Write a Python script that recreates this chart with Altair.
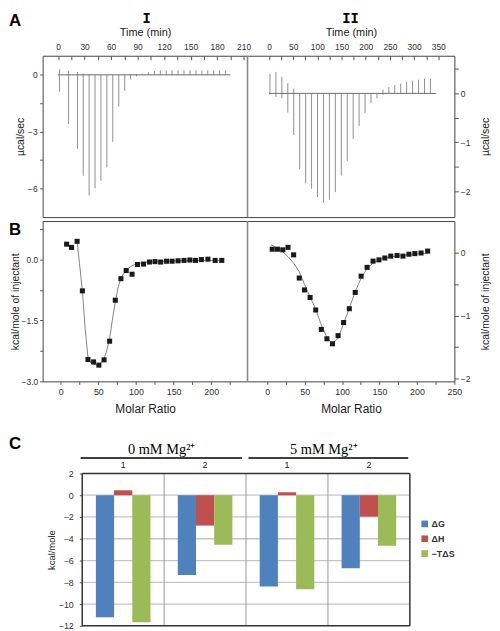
import altair as alt
import pandas as pd

FONT = "Liberation Sans"

# ---------------- Panel A : raw ITC traces ----------------
TIME_I = [1.5, 11.9, 22.0, 28.4, 35.1, 41.8, 48.5, 55.2, 61.9, 68.7, 75.4, 82.1, 88.8, 95.5,
          102.2, 109.0, 115.7, 122.4, 129.0, 135.8, 142.5, 149.3, 156.0, 162.7, 169.4, 176.1, 182.8, 189.6]
DOWN_I = [-0.89, -2.6, -3.9, -5.33, -6.38, -6.0, -5.6, -4.88, -3.56, -1.68, -0.85, -0.24, -0.07, 0.0,
          0.0, 0.0, 0.0, 0.0, 0.0, 0.0, 0.0, 0.0, 0.0, 0.0, 0.0, 0.0, 0.0, 0.0]
UP_I = [0.3, 0.22, 0.15, 0.08, 0.03, 0.0, 0.0, 0.0, 0.0, 0.0, 0.0, 0.0, 0.02, 0.06,
        0.14, 0.2, 0.24, 0.24, 0.24, 0.24, 0.24, 0.24, 0.24, 0.24, 0.24, 0.24, 0.24, 0.24]
BASE_I = [0, 195]

TIME_II = [2.0, 14.3, 26.6, 38.9, 51.2, 63.5, 75.8, 88.0, 100.3, 112.6, 124.9, 137.2, 149.5, 161.8,
           174.0, 186.3, 198.6, 210.9, 223.2, 235.5, 247.8, 260.0, 272.3, 284.6, 296.9, 309.2, 321.5, 333.8]
DOWN_II = [-0.03, -0.07, -0.1, -0.39, -0.85, -1.55, -1.84, -1.95, -2.12, -2.24, -2.18, -2.02, -1.68, -1.38,
           -0.93, -0.67, -0.4, -0.2, -0.1, -0.03, 0.0, 0.0, 0.0, 0.0, 0.0, 0.0, 0.0, 0.0]
UP_II = [0.40, 0.44, 0.34, 0.21, 0.1, 0.0, 0.0, 0.0, 0.0, 0.0, 0.0, 0.0, 0.0, 0.0,
         0.0, 0.0, 0.0, 0.0, 0.0, 0.08, 0.13, 0.17, 0.2, 0.24, 0.26, 0.28, 0.3, 0.3]
BASE_II = [0, 346]

T_I_DOM = [-17.5, 214.4]
UC_I_DOM = [-7.52, 1.01]
T_II_DOM = [-44.4, 383.3]
UC_II_DOM = [-2.53, 0.77]
TIME_I_TICKS = list(range(0, 211, 15))
TIME_II_TICKS = list(range(0, 351, 25))
UCAL_I_TICKS = [-6, -4.5, -3, -1.5, 0]
UCAL_II_TICKS = [0.5, 0, -0.5, -1, -1.5, -2]

# ---------------- Panel B : integrated heats ----------------
MR_I = [7.9, 14.4, 21.8, 28.8, 36.2, 43.7, 50.7, 57.6, 65.0, 72.5, 80.0, 87.0, 94.8, 102.0,
        110.0, 117.9, 125.3, 132.8, 140.6, 148.0, 155.9, 163.8, 171.6, 179.0, 186.9, 195.6, 205.2, 214.0]
DH_I = [0.38, 0.30, 0.45, -0.77, -2.46, -2.52, -2.60, -2.47, -2.01, -1.00, -0.47, -0.27, -0.36, -0.12,
        -0.11, -0.06, -0.05, -0.06, -0.04, -0.04, -0.03, -0.02, -0.01, -0.02, 0.00, 0.01, -0.02, -0.02]
FIT_I_X = [21.8, 25.0, 28.8, 32.5, 36.2, 40.0, 43.7, 50.7, 57.6, 61.0, 65.0, 68.5, 72.5, 76.0,
           80.0, 87.0, 94.8, 102.0, 110.0, 125.0, 140.0, 160.0, 180.0, 200.0, 214.0]
FIT_I_Y = [0.45, -0.10, -0.77, -1.70, -2.40, -2.55, -2.58, -2.60, -2.45, -2.25, -1.95, -1.50, -1.05, -0.70,
           -0.45, -0.25, -0.15, -0.10, -0.07, -0.05, -0.04, -0.03, -0.02, -0.02, -0.02]

MR_II = [6.6, 13.6, 20.7, 27.7, 35.2, 42.7, 49.7, 57.2, 64.7, 72.2, 79.7, 87.1, 94.6, 102.0,
         109.6, 117.5, 125.4, 133.4, 141.3, 149.2, 157.1, 165.0, 173.4, 181.3, 189.3, 197.2, 205.5, 214.3]
DH_II = [0.06, 0.06, 0.05, 0.09, -0.03, -0.40, -0.59, -0.71, -0.91, -1.22, -1.37, -1.45, -1.32, -1.11,
         -0.89, -0.63, -0.37, -0.23, -0.13, -0.11, -0.08, -0.05, -0.04, -0.05, -0.02, -0.01, 0.00, 0.03]
FIT_II_X = [5.0, 13.6, 20.7, 27.7, 35.2, 42.7, 49.7, 57.2, 64.7, 72.2, 79.7, 87.1, 94.6, 102.0,
            109.6, 117.5, 125.4, 133.4, 141.3, 149.2, 157.1, 165.0, 181.3, 197.2, 214.3]
FIT_II_Y = [0.13, 0.08, 0.02, -0.06, -0.16, -0.30, -0.50, -0.70, -0.90, -1.15, -1.35, -1.45, -1.36, -1.13,
            -0.88, -0.62, -0.40, -0.25, -0.16, -0.11, -0.08, -0.06, -0.04, -0.02, 0.00]

MR_I_DOM = [-24.0, 248.2]
KC_I_DOM = [-3.0, 0.95]
MR_II_DOM = [-26.4, 250.0]
KC_II_DOM = [-2.05, 0.51]
MR_TICKS_I = list(range(0, 250, 25))
MR_TICKS_II = list(range(0, 251, 25))
KCAL_I_TICKS = [0.75, 0, -0.75, -1.5, -2.25, -3.0]
KCAL_II_TICKS = [0, -0.5, -1, -1.5, -2]

# ---------------- Panel C : thermodynamic parameters ----------------
GROUPS = ["0 mM|1", "0 mM|2", "5 mM|1", "5 mM|2"]
TERMS = ["ΔG", "ΔH", "−TΔS"]
DG = [-11.2, -7.33, -8.39, -6.7]
DH = [0.45, -2.79, 0.27, -1.97]
MTDS = [-11.67, -4.55, -8.64, -4.64]
TERM_COLORS = ["#4F81BD", "#C0504D", "#9BBB59"]
KCAL_DOM = [-12, 2]
KCAL_TICKS = list(range(-12, 3, 2))
KCAL_GRID = list(range(-10, 1, 2))
GROUP_SPAN = [0, 4]
GROUP_EDGES = [1, 2, 3]
HEADER_LABELS = ["0 mM Mg²⁺", "5 mM Mg²⁺"]
HEADER_CENTER = [0.97, 2.95]
HEADER_START = [-0.02, 2.03]
HEADER_END = [1.95, 3.98]

# ---------------- layout sizes ----------------
W, W1 = 416, 207
HA, HB = 163, 162
CH = 154
C_RANGE = [40, 371]


def sc(dom, rng=None):
    if rng is None:
        return alt.Scale(domain=dom, nice=False, zero=False)
    return alt.Scale(domain=dom, range=rng, nice=False, zero=False)


def ax(**kw):
    base = dict(grid=False, labelFont=FONT, titleFont=FONT, labelColor="#333", titleColor="#222",
                tickColor="#555", labelFontSize=8.5, titleFontSize=10.5, titleFontWeight="normal",
                labelOverlap=False, labelFlush=False, domain=False)
    base.update(kw)
    return alt.Axis(**base)


def txt(label, x, y, size=17, font=FONT, align="left"):
    return alt.Chart(pd.DataFrame({"lab": [label]})).mark_text(
        align=align, baseline="top", fontSize=size, fontWeight="bold", font=font, color="black"
    ).encode(x=alt.value(x), y=alt.value(y), text="lab:N")


FRAME = alt.ViewBackground(stroke="#444", strokeWidth=1)

# ---------- Row A ----------
ax_tI = ax(orient="top", title="Time (min)", values=TIME_I_TICKS,
           labelExpr="datum.value % 30 == 0 ? datum.label : ''", offset=-4, tickSize=4,
           labelPadding=4.5, titlePadding=5, titleFontSize=11)
ax_yI = ax(orient="left", title="µcal/sec", values=UCAL_I_TICKS, format=".0f",
           labelExpr="datum.value % 3 == 0 ? datum.label : ''", tickSize=3, labelPadding=2.5, titlePadding=2)
ax_tII = ax(orient="top", title="Time (min)", values=TIME_II_TICKS,
            labelExpr="datum.value % 50 == 0 ? datum.label : ''", offset=-4, tickSize=4,
            labelPadding=4.5, titlePadding=5, titleFontSize=11)
ax_yII = ax(orient="right", title="µcal/sec", values=UCAL_II_TICKS, format=".0f",
            labelExpr="datum.value % 1 == 0 ? datum.label : ''", tickSize=4, labelPadding=2,
            titlePadding=11, titleAngle=-90, titleBaseline="top")

sxA1, syA1 = sc(T_I_DOM, [0, W1]), sc(UC_I_DOM)
sxA2, syA2 = sc(T_II_DOM, [W1, W]), sc(UC_II_DOM)

dfA1 = pd.DataFrame({"t": TIME_I, "lo": DOWN_I, "hi": UP_I})
dfA2 = pd.DataFrame({"t": TIME_II, "lo": DOWN_II, "hi": UP_II})
bA1 = pd.DataFrame({"t0": [BASE_I[0]], "t1": [BASE_I[1]], "y": [0]})
bA2 = pd.DataFrame({"t0": [BASE_II[0]], "t1": [BASE_II[1]], "y": [0]})

layerA1 = alt.layer(
    alt.Chart(dfA1).mark_rule(color="#8f8f8f", strokeWidth=1).encode(
        x=alt.X("t:Q", scale=sxA1, axis=ax_tI), y=alt.Y("lo:Q", scale=syA1, axis=ax_yI), y2="hi:Q"),
    alt.Chart(bA1).mark_rule(color="#6a6a6a", strokeWidth=1).encode(
        x=alt.X("t0:Q", scale=sxA1, axis=ax_tI), x2="t1:Q", y=alt.Y("y:Q", scale=syA1, axis=ax_yI)),
)
layerA2 = alt.layer(
    alt.Chart(dfA2).mark_rule(color="#8f8f8f", strokeWidth=1).encode(
        x=alt.X("t:Q", scale=sxA2, axis=ax_tII), y=alt.Y("lo:Q", scale=syA2, axis=ax_yII), y2="hi:Q"),
    alt.Chart(bA2).mark_rule(color="#6a6a6a", strokeWidth=1).encode(
        x=alt.X("t0:Q", scale=sxA2, axis=ax_tII), x2="t1:Q", y=alt.Y("y:Q", scale=syA2, axis=ax_yII)),
    alt.Chart(pd.DataFrame({"d": [T_II_DOM[0]]})).mark_rule(color="#888", strokeWidth=1.6).encode(
        x=alt.X("d:Q", scale=sxA2, axis=ax_tII)),
)
rowA = alt.layer(
    layerA1, layerA2,
    txt("A", -34, -43),
    txt("I", 105, -44, size=14, font="Liberation Mono", align="center"),
    txt("II", 311, -44, size=14, font="Liberation Mono", align="center"),
).resolve_scale(x="independent", y="independent").properties(width=W, height=HA, view=FRAME)

# ---------- Row B ----------
ax_xBI = ax(orient="bottom", title="Molar Ratio", values=MR_TICKS_I,
            labelExpr="datum.value % 50 == 0 ? datum.label : ''", tickSize=3, labelPadding=3.5,
            titlePadding=7, titleFontSize=12, labelFontSize=9)
ax_yBI = ax(orient="left", title="kcal/mole of injectant", values=KCAL_I_TICKS, format=".1f",
            labelExpr="abs(datum.value % 1.5) < 0.01 ? datum.label : ''", tickSize=3, labelPadding=2,
            titlePadding=1)
ax_xBII = ax(orient="bottom", title="Molar Ratio", values=MR_TICKS_II,
             labelExpr="datum.value % 50 == 0 ? datum.label : ''", tickSize=3, labelPadding=3.5,
             titlePadding=7, titleFontSize=12, labelFontSize=9)
ax_yBII = ax(orient="right", title="kcal/mole of injectant", values=KCAL_II_TICKS, format=".0f",
             labelExpr="datum.value % 1 == 0 ? datum.label : ''", tickSize=4, labelPadding=2,
             titlePadding=11, titleAngle=-90, titleBaseline="top")

sxB1, syB1 = sc(MR_I_DOM, [0, W1]), sc(KC_I_DOM)
sxB2, syB2 = sc(MR_II_DOM, [W1, W]), sc(KC_II_DOM)

layerB1 = alt.layer(
    alt.Chart(pd.DataFrame({"x": FIT_I_X, "y": FIT_I_Y})).mark_line(color="#777", strokeWidth=0.9).encode(
        x=alt.X("x:Q", scale=sxB1, axis=ax_xBI), y=alt.Y("y:Q", scale=syB1, axis=ax_yBI)),
    alt.Chart(pd.DataFrame({"x": MR_I, "y": DH_I})).mark_square(size=26, color="#1a1a1a", opacity=1).encode(
        x=alt.X("x:Q", scale=sxB1, axis=ax_xBI), y=alt.Y("y:Q", scale=syB1, axis=ax_yBI)),
)
layerB2 = alt.layer(
    alt.Chart(pd.DataFrame({"x": FIT_II_X, "y": FIT_II_Y})).mark_line(color="#777", strokeWidth=0.9).encode(
        x=alt.X("x:Q", scale=sxB2, axis=ax_xBII), y=alt.Y("y:Q", scale=syB2, axis=ax_yBII)),
    alt.Chart(pd.DataFrame({"x": MR_II, "y": DH_II})).mark_square(size=26, color="#1a1a1a", opacity=1).encode(
        x=alt.X("x:Q", scale=sxB2, axis=ax_xBII), y=alt.Y("y:Q", scale=syB2, axis=ax_yBII)),
    alt.Chart(pd.DataFrame({"d": [MR_II_DOM[0]]})).mark_rule(color="#888", strokeWidth=1.6).encode(
        x=alt.X("d:Q", scale=sxB2, axis=ax_xBII)),
)
rowB = alt.layer(layerB1, layerB2, txt("B", -34, 1)).resolve_scale(
    x="independent", y="independent").properties(width=W, height=HB, view=FRAME)

# ---------- Panel C ----------
dfC = pd.DataFrame({
    "group": GROUPS * 3,
    "term": [t for t in TERMS for _ in GROUPS],
    "value": DG + DH + MTDS,
})
qsc = alt.Scale(domain=GROUP_SPAN, range=C_RANGE, nice=False, zero=False)
ysc = alt.Scale(domain=KCAL_DOM, nice=False, zero=False)
csc = alt.Scale(domain=TERMS, range=TERM_COLORS)

c_grid = alt.Chart(pd.DataFrame({"y": KCAL_GRID, "x0": [GROUP_SPAN[0]] * len(KCAL_GRID),
                                 "x1": [GROUP_SPAN[1]] * len(KCAL_GRID)})).mark_rule(
    color="#c6c6c6", strokeWidth=1.3).encode(
    x=alt.X("x0:Q", scale=qsc, axis=None), x2="x1:Q", y=alt.Y("y:Q", scale=ysc, axis=None))
c_div = alt.Chart(pd.DataFrame({"b": GROUP_EDGES})).mark_rule(color="#9a9a9a", strokeWidth=1).encode(
    x=alt.X("b:Q", scale=qsc, axis=None))
c_frame_h = alt.Chart(pd.DataFrame({"y": KCAL_DOM, "x0": [GROUP_SPAN[0]] * 2,
                                    "x1": [GROUP_SPAN[1]] * 2})).mark_rule(
    color="#333", strokeWidth=1.5).encode(
    x=alt.X("x0:Q", scale=qsc, axis=None), x2="x1:Q", y=alt.Y("y:Q", scale=ysc, axis=None))
c_frame_v = alt.Chart(pd.DataFrame({"b": GROUP_SPAN})).mark_rule(color="#333", strokeWidth=1.5).encode(
    x=alt.X("b:Q", scale=qsc, axis=None))
c_back = alt.layer(c_grid, c_div, c_frame_h, c_frame_v)

c_bars = alt.Chart(dfC).mark_bar().encode(
    x=alt.X("group:N", sort=GROUPS, scale=alt.Scale(range=C_RANGE, paddingInner=0, paddingOuter=0),
            axis=alt.Axis(orient="top", title=None, labelExpr="split(datum.label, '|')[1]", ticks=False,
                          tickSize=0, domain=False, labelAngle=0, labelPadding=3.5, labelFont=FONT,
                          labelFontSize=9, labelColor="#222", grid=False)),
    xOffset=alt.XOffset("term:N", sort=TERMS, scale=alt.Scale(paddingInner=0, paddingOuter=0.75)),
    y=alt.Y("value:Q", stack=None, scale=ysc,
            axis=alt.Axis(values=KCAL_TICKS, title="kcal/mole", grid=False, offset=-C_RANGE[0],
                          domain=False, tickSize=3, tickColor="#555", labelPadding=6, titlePadding=2,
                          labelFont=FONT, titleFont=FONT, labelFontSize=9, titleFontSize=9.5,
                          titleFontWeight="normal", labelColor="#333", titleColor="#222",
                          labelOverlap=False, labelFlush=False)),
    color=alt.Color("term:N", sort=TERMS, scale=csc, legend=None),
)

c_hlines = alt.Chart(pd.DataFrame({"s": HEADER_START, "e": HEADER_END})).mark_rule(
    color="black", strokeWidth=1.5).encode(
    x=alt.X("s:Q", scale=qsc, axis=None), x2="e:Q", y=alt.value(-15.7))
c_htext = alt.Chart(pd.DataFrame({"c": HEADER_CENTER, "lab": HEADER_LABELS})).mark_text(
    font="Liberation Serif", fontSize=14.5, color="black", baseline="middle").encode(
    x=alt.X("c:Q", scale=qsc, axis=None), y=alt.value(-24), text="lab:N")
c_head = alt.layer(c_hlines, c_htext)

leg_y = alt.Y("term:N", sort=TERMS, axis=None,
              scale=alt.Scale(type="point", domain=TERMS, range=[51, 81], padding=0))
leg_df = pd.DataFrame({"term": TERMS})
c_leg = alt.layer(
    alt.Chart(leg_df).mark_square(size=45, opacity=1).encode(
        x=alt.value(386), y=leg_y, color=alt.Color("term:N", scale=csc, legend=None)),
    alt.Chart(leg_df).mark_text(align="left", baseline="middle", fontSize=9, fontWeight="bold",
                                color="#333", font=FONT).encode(
        x=alt.value(393), y=leg_y, text="term:N"),
)

panelC = alt.layer(c_back, c_bars, c_head, c_leg, txt("C", -34, -37.7)).resolve_scale(
    x="independent", y="independent").properties(
    width=W, height=CH, view=alt.ViewBackground(stroke="transparent"))

top = alt.vconcat(rowA, rowB, spacing=0)
chart = alt.vconcat(top, panelC, spacing=19).properties(
    padding={"left": 0, "top": 0, "right": 0, "bottom": 0}
).configure(font=FONT)

chart.save("out.html", embed_options={"renderer": "svg", "actions": False})
